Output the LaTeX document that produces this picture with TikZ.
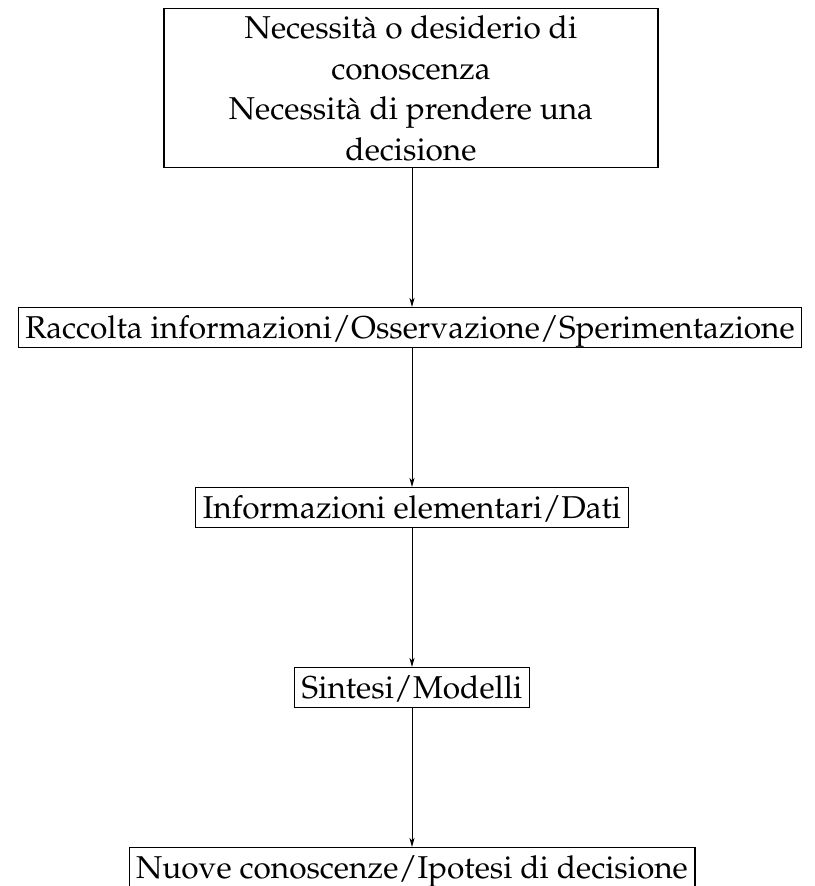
\documentclass[tikz,border=0pt]{standalone}
\usepackage[T1]{fontenc}
\usepackage{mathpazo}
\usetikzlibrary{arrows.meta}
\begin{document}
\begin{tikzpicture}[x=1pt,y=-1pt,
  every node/.style={font=\fontsize{31.6}{40.5}\selectfont},
  box/.style={draw, line width=1.3pt, inner xsep=7pt, inner ysep=6pt, text height=25pt, text depth=3pt, anchor=north},
  bigbox/.style={draw, line width=1.3pt, inner xsep=7pt, inner ysep=7pt, align=center, minimum width=494pt, anchor=north},
  arr/.style={-{Stealth[length=9pt,width=5pt,inset=2.5pt]}, line width=1pt}]
\useasboundingbox (0,0) rectangle (814,886);
\node[bigbox] (b1) at (411,8) {Necessit\`a o desiderio di\\conoscenza\\Necessit\`a di prendere una\\decisione};
\node[box] (b2) at (410,307) {Raccolta informazioni/Osservazione/Sperimentazione};
\node[box] (b3) at (412,487) {Informazioni elementari/Dati};
\node[box] (b4) at (412,667) {Sintesi/Modelli};
\node[box] (b5) at (412,847) {Nuove conoscenze/Ipotesi di decisione};
\draw[arr] (b1.south -| b3.north) -- (b2.north -| b3.north);
\draw[arr] (b2.south -| b3.north) -- (b3.north);
\draw[arr] (b3.south) -- (b4.north);
\draw[arr] (b4.south) -- (b5.north);
\end{tikzpicture}
\end{document}
